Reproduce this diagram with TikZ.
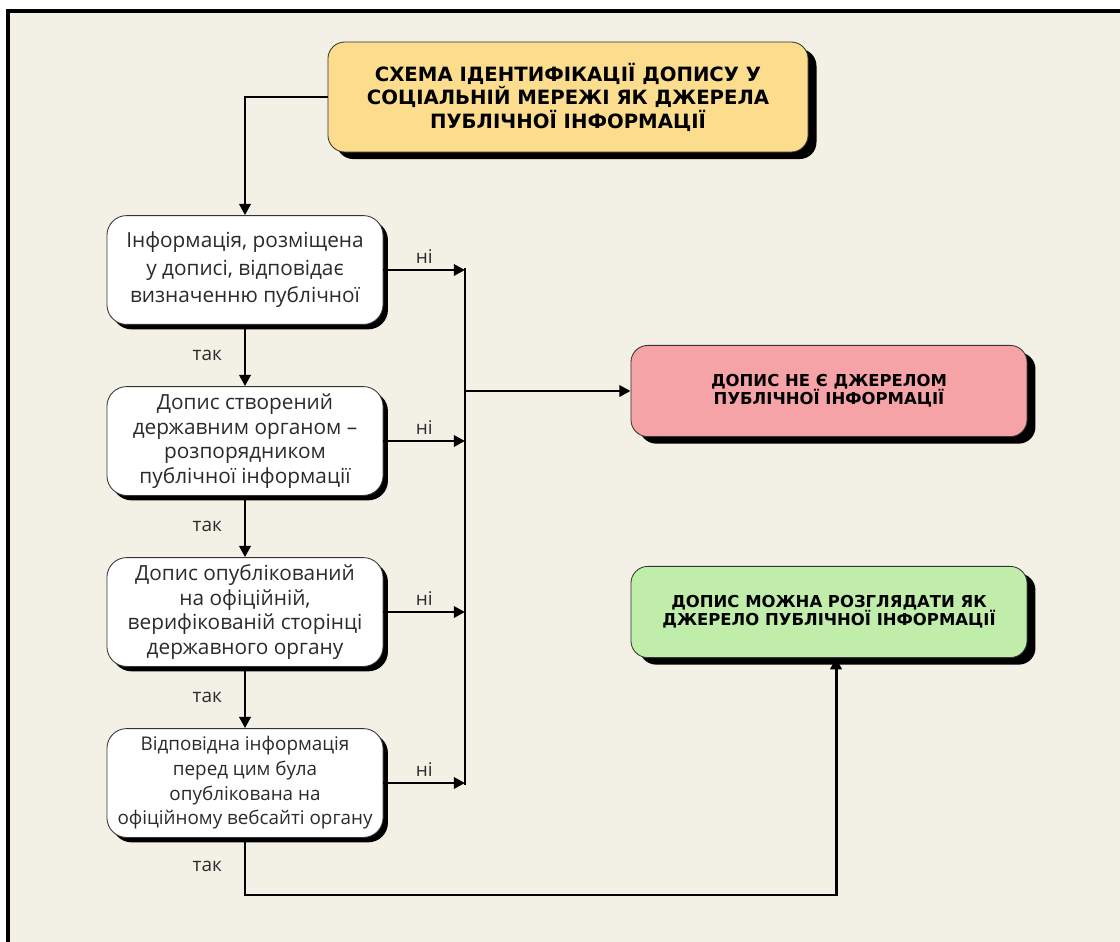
\documentclass[tikz,border=0pt]{standalone}
\usepackage{fontspec}
\setmainfont{Open Sans}
\newfontfamily\headfont{DejaVu Sans}
\usetikzlibrary{arrows.meta,shadows}
\definecolor{cream}{HTML}{F3F0E5}
\definecolor{titlefill}{HTML}{FCDD8D}
\definecolor{nofill}{HTML}{F5A3A6}
\definecolor{yesfill}{HTML}{C1EDAB}
\definecolor{ink}{HTML}{2B2B2B}
\tikzset{
  basebox/.style={draw=black!80, line width=0.6pt, align=center, text=ink},
  stepbox/.style={basebox, fill=white, rounded corners=14pt,
    minimum width=6.9cm, minimum height=2.72cm, inner xsep=2pt,
    font=\fontsize{14.8}{19.5}\selectfont,
    drop shadow={shadow xshift=3.5pt, shadow yshift=-3.5pt, fill=black, opacity=1}},
  longstep/.style={stepbox, font=\fontsize{14.8}{17.5}\selectfont},
  headbox/.style={basebox, rounded corners=12pt, text=black,
    font=\headfont\bfseries\fontsize{11.7}{13}\selectfont,
    drop shadow={shadow xshift=6pt, shadow yshift=-5pt, fill=black, opacity=1}},
  flow/.style={line width=2.1pt, -{Triangle[length=8pt,width=8pt]}},
  lbl/.style={font=\fontsize{13.5}{15}\selectfont, text=ink}
}
\begin{document}
\begin{tikzpicture}[x=0.025cm,y=-0.025cm]
\useasboundingbox (0,0) rectangle (1120,942);
\fill[white] (0,0) rectangle (1120,942);
\fill[cream] (8,11) rectangle (1120,942);
\draw[line width=2.2pt] (8,942) -- (8,11) -- (1120,11);

% title and outcomes
\node[headbox, fill=titlefill, minimum width=12cm, minimum height=2.75cm,
  font=\headfont\bfseries\fontsize{14}{16.7}\selectfont] (title) at (568,97)
  {СХЕМА ІДЕНТИФІКАЦІЇ ДОПИСУ У\\СОЦІАЛЬНІЙ МЕРЕЖІ ЯК ДЖЕРЕЛА\\ПУБЛІЧНОЇ ІНФОРМАЦІЇ};
\node[headbox, fill=nofill, minimum width=9.9cm, minimum height=2.28cm] (notsrc) at (829,391)
  {ДОПИС НЕ Є ДЖЕРЕЛОМ\\ПУБЛІЧНОЇ ІНФОРМАЦІЇ};
\node[headbox, fill=yesfill, minimum width=9.9cm, minimum height=2.28cm] (issrc) at (829,612)
  {ДОПИС МОЖНА РОЗГЛЯДАТИ ЯК\\ДЖЕРЕЛО ПУБЛІЧНОЇ ІНФОРМАЦІЇ};

% checks
\node[stepbox] (q1) at (245,270) {Інформація, розміщена\\у дописі, відповідає\\визначенню публічної};
\node[longstep] (q2) at (245,441) {Допис створений\\державним органом –\\розпорядником\\публічної інформації};
\node[longstep] (q3) at (245,612) {Допис опублікований\\на офіційній,\\верифікованій сторінці\\державного органу};
\node[longstep, font=\fontsize{13.4}{17.5}\selectfont] (q4) at (245,783)
  {Відповідна інформація\\перед цим була\\опублікована на\\офіційному вебсайті органу};

\coordinate (bustop) at (465,268);
\coordinate (busbot) at (465,785);
\coordinate (turn) at (245,895);

\draw[flow] (title.west) -| (q1.north);
\draw[flow] (q1) -- node[lbl, left=12pt] {так} (q2);
\draw[flow] (q2) -- node[lbl, left=12pt] {так} (q3);
\draw[flow] (q3) -- node[lbl, left=12pt] {так} (q4);

\foreach \q in {q1,q2,q3,q4}
  \draw[flow] (\q.east) -- node[lbl, above] {ні} (\q.east -| bustop);
\draw[line width=2.1pt] (bustop) -- (busbot);
\draw[flow] (bustop |- notsrc.west) -- (notsrc.west);

\draw[flow] (q4.south) -- node[lbl, left=12pt] {так} (turn) -| ([xshift=5]issrc.south);
\end{tikzpicture}
\end{document}
